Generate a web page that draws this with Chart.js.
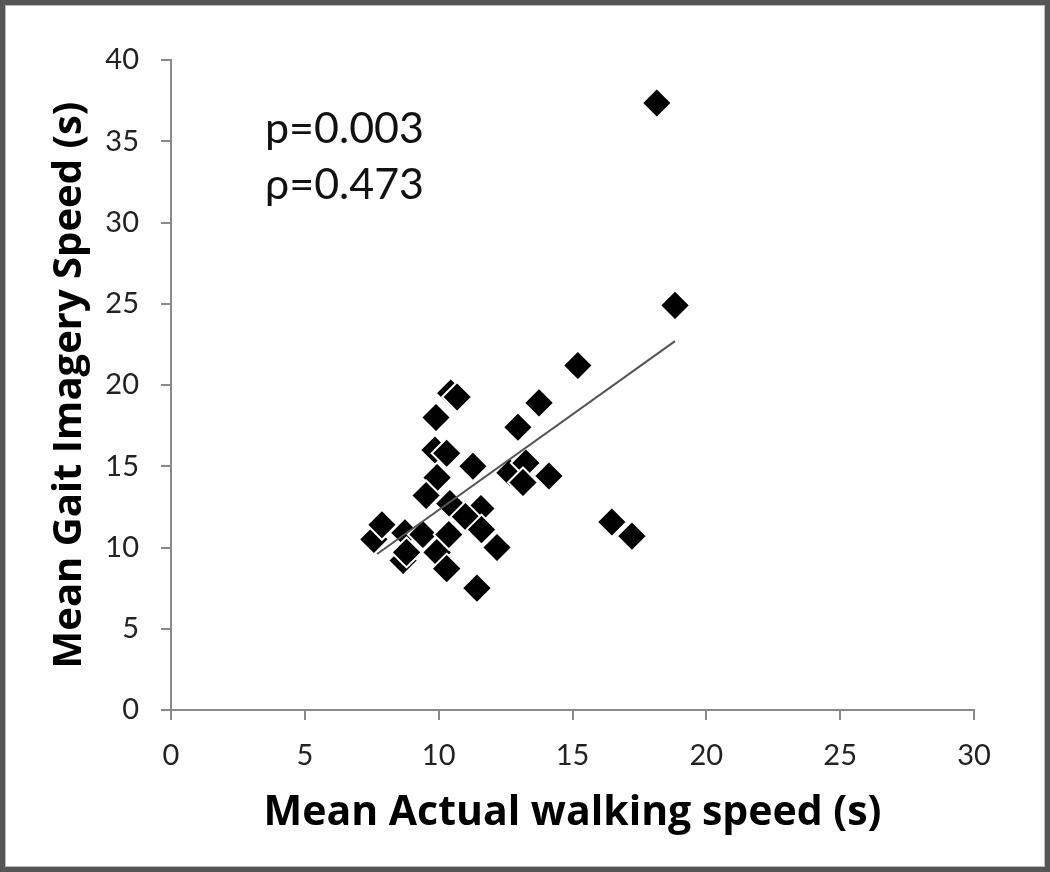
<!DOCTYPE html>
<html>
<head>
<meta charset="utf-8">
<script src="https://cdn.jsdelivr.net/npm/chart.js@4.4.1/dist/chart.umd.min.js"></script>
<style>
  html, body { margin: 0; padding: 0; background: #fff; }
  #wrap { width: 1050px; height: 872px; }
</style>
</head>
<body>
<div id="wrap"><canvas id="grafico" width="1050" height="872"></canvas></div>
<script>
// datos
const actualSpeed = [18.15, 18.83, 15.2, 13.75, 12.96, 10.45, 10.69, 9.9, 9.86, 10.3, 11.28, 9.94, 9.53,
    10.42, 11.58, 11.0, 11.6, 12.18, 7.58, 7.88, 8.74, 8.67, 8.8, 9.41, 9.94, 10.38, 10.3, 11.43,
    12.66, 13.26, 13.15, 14.12, 16.47, 17.22];
const imagerySpeed = [37.35, 24.9, 21.2, 18.9, 17.4, 19.5, 19.26, 18.0, 16.0, 15.8, 15.0, 14.3, 13.2,
    12.7, 12.4, 11.9, 11.1, 10.0, 10.5, 11.4, 10.9, 9.2, 9.7, 10.8, 9.7, 10.8, 8.7, 7.5,
    14.6, 15.2, 14.0, 14.4, 11.57, 10.7];
const trendX = [7.7, 18.83];
const trendY = [9.6, 22.7];
const xTicks = [0, 5, 10, 15, 20, 25, 30];
const yTicks = [0, 5, 10, 15, 20, 25, 30, 35, 40];
const stats = ["p=0.003", "\u03c1=0.473"];

const puntos = actualSpeed.map((x, i) => ({ x: x, y: imagerySpeed[i] }));
const tendencia = trendX.map((x, i) => ({ x: x, y: trendY[i] }));

const fuente = "Lato, 'Open Sans', sans-serif";
const fuenteTitulo = "'Open Sans', Lato, sans-serif";

// marco y textos de estadistica
const extras = {
    id: "extras",
    afterDraw(chart) {
        const ctx = chart.ctx;
        ctx.save();
        ctx.fillStyle = "#111";
        ctx.font = "43px " + fuente;
        ctx.textBaseline = "alphabetic";
        ctx.fillText(stats[0], 265, 143);
        ctx.fillText(stats[1], 265, 199);
        ctx.strokeStyle = "#555";
        ctx.lineWidth = 5;
        ctx.strokeRect(2.5, 2.5, 1045, 867);
        ctx.strokeStyle = "#bbb";
        ctx.lineWidth = 1;
        ctx.strokeRect(5.5, 5.5, 1039, 861);
        ctx.restore();
    }
};

new Chart(document.getElementById("grafico"), {
    type: "scatter",
    data: {
        datasets: [{
            data: tendencia,
            type: "line",
            order: 0,
            borderColor: "#555",
            borderWidth: 2,
            pointRadius: 0,
            fill: false
        }, {
            data: puntos,
            order: 1,
            pointStyle: "rectRot",
            pointRadius: 15,
            pointHoverRadius: 15,
            backgroundColor: "#000",
            borderColor: "#fff",
            borderWidth: 2
        }]
    },
    plugins: [extras],
    options: {
        responsive: false,
        animation: false,
        layout: { padding: { left: 0, top: 60, right: 76, bottom: 0 } },
        plugins: { legend: { display: false }, tooltip: { enabled: false } },
        scales: {
            x: {
                type: "linear",
                min: 0, max: 30,
                afterFit(s) { s.height = 162; },
                afterBuildTicks(s) { s.ticks = xTicks.map(v => ({ value: v })); },
                grid: { drawOnChartArea: false, drawTicks: true, tickLength: 10, color: "#8a8a8a", lineWidth: 2 },
                border: { display: true, color: "#8a8a8a", width: 2 },
                ticks: { color: "#222", font: { family: fuente, size: 29 }, padding: 18, maxRotation: 0 },
                title: {
                    display: true,
                    text: "Mean Actual walking speed (s)",
                    color: "#000",
                    font: { family: fuenteTitulo, size: 41, weight: "bold" },
                    padding: { top: 0, bottom: 34 }
                }
            },
            y: {
                type: "linear",
                min: 0, max: 40,
                afterFit(s) { s.width = 171; },
                afterBuildTicks(s) { s.ticks = yTicks.map(v => ({ value: v })); },
                grid: { drawOnChartArea: false, drawTicks: true, tickLength: 10, color: "#8a8a8a", lineWidth: 2 },
                border: { display: true, color: "#8a8a8a", width: 2 },
                ticks: { color: "#222", font: { family: fuente, size: 29 }, padding: 22 },
                title: {
                    display: true,
                    text: "Mean Gait Imagery Speed (s)",
                    color: "#000",
                    font: { family: fuenteTitulo, size: 40, weight: "bold" },
                    padding: { top: 46, bottom: 0 }
                }
            }
        }
    }
});
</script>
</body>
</html>
